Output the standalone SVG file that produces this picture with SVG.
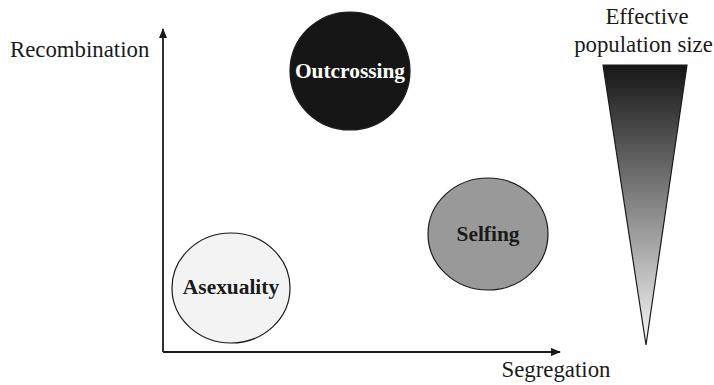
<svg xmlns="http://www.w3.org/2000/svg" width="714" height="385" viewBox="0 0 714 385">
<defs>
<style>
.lbl{font-family:"Liberation Serif","Times New Roman",serif;font-size:22.8px;fill:#1a1a1a}
.nl{font-family:"Liberation Serif","Times New Roman",serif;font-size:21.4px;font-weight:bold;text-anchor:middle}
.node{stroke:#1a1a1a;stroke-width:1.2}
.axis{stroke:#1a1a1a;stroke-width:1.8;fill:none}
</style>
<marker id="ah" viewBox="0 0 10 10" refX="9" refY="5" markerWidth="10" markerHeight="10" markerUnits="userSpaceOnUse" orient="auto">
<path d="M0,1 L10,5 L0,9 Z" fill="#1a1a1a"/>
</marker>
<linearGradient id="grad" x1="0" y1="0" x2="0" y2="1">
<stop offset="0" stop-color="#161616"/>
<stop offset="0.5" stop-color="#858585"/>
<stop offset="1" stop-color="#f8f8f8"/>
</linearGradient>
</defs>
<rect width="714" height="385" fill="#ffffff"/>
<g id="connectors">
<line class="axis" x1="163" y1="352" x2="163" y2="29" marker-end="url(#ah)"/>
<line class="axis" x1="163" y1="352" x2="560" y2="352" marker-end="url(#ah)"/>
</g>
<g id="outcrossing">
<ellipse class="node" cx="350" cy="71" rx="60" ry="59" fill="#161616"/>
<text class="nl" x="350" y="78" fill="#ffffff">Outcrossing</text>
</g>
<g id="selfing">
<ellipse class="node" cx="488" cy="234" rx="60" ry="56" fill="#999999"/>
<text class="nl" x="488" y="241" fill="#1a1a1a">Selfing</text>
</g>
<g id="asexuality">
<ellipse class="node" cx="231" cy="288" rx="59" ry="55" fill="#f3f3f3"/>
<text class="nl" x="231" y="294" fill="#1a1a1a">Asexuality</text>
</g>
<g id="population">
<polygon points="603,65 687,65 646,345" fill="url(#grad)" stroke="#1a1a1a" stroke-width="1.2" stroke-linejoin="miter"/>
<text class="lbl" x="647" y="24" text-anchor="middle">Effective</text>
<text class="lbl" x="643.5" y="52" text-anchor="middle">population size</text>
</g>
<text class="lbl" x="10" y="57">Recombination</text>
<text class="lbl" x="556" y="377" text-anchor="middle">Segregation</text>
</svg>
